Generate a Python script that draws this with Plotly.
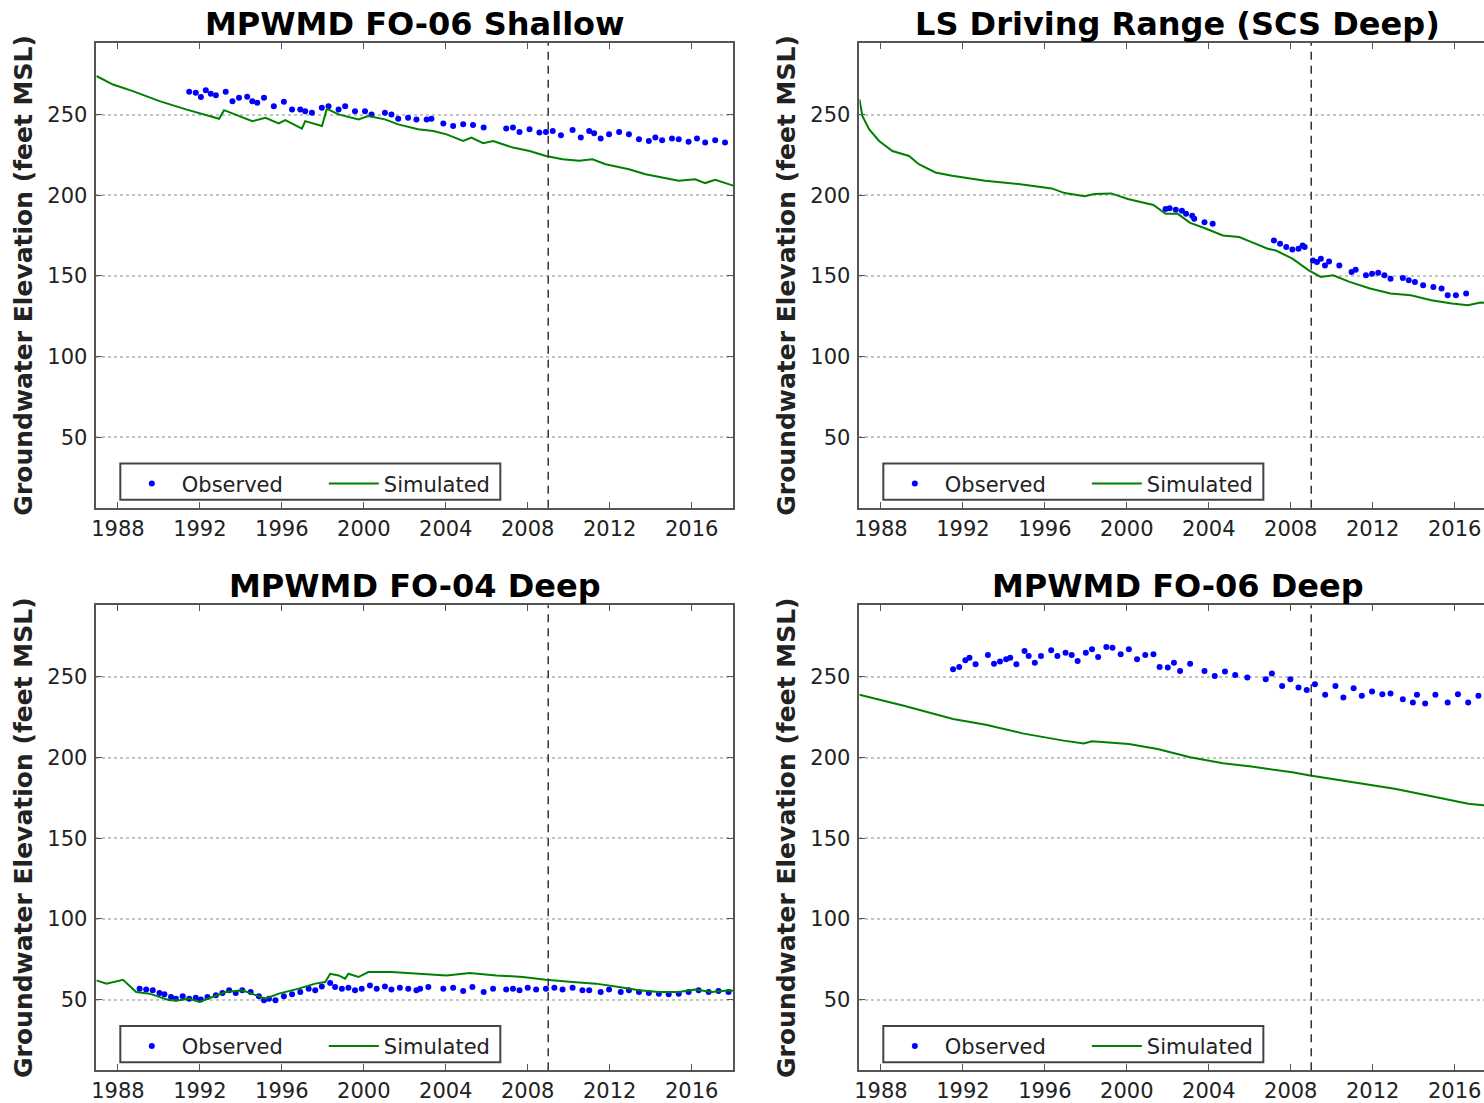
import plotly.graph_objects as go

# ---------------- data (decimal years, feet MSL) ----------------
tl_sim_year = [1986.95, 1987.76, 1988.73, 1990.03, 1991.32, 1992.94, 1993.18, 1994.56, 1995.2, 1995.85,
               1996.17, 1996.98, 1997.14, 1997.96, 1998.2, 1998.77, 1999.74, 2000.22, 2001.03, 2001.68,
               2002.65, 2003.39, 2004.04, 2004.85, 2005.25, 2005.82, 2006.31, 2007.28, 2008.09, 2008.89,
               2009.7, 2010.51, 2011.16, 2011.8, 2012.94, 2013.75, 2014.56, 2015.37, 2016.17, 2016.66,
               2017.15, 2017.87, 2018.03]
tl_sim_val = [274, 268.7, 264.6, 258.4, 253.3, 247.5, 252.8, 246, 248.1, 244.6,
              246.7, 241.4, 246, 243, 253.7, 250.2, 247.1, 249.2, 247.1, 244,
              241, 239.9, 237.8, 233.7, 235.8, 232.3, 233.7, 229.6, 227.5, 224.4,
              222.4, 221.4, 222.4, 219.3, 216.2, 213.1, 211.1, 209, 210, 207.6,
              209.6, 206.4, 206]
tl_obs_year = [1991.48, 1991.8, 1992.05, 1992.29, 1992.53, 1992.78, 1993.26, 1993.59, 1993.91, 1994.31,
               1994.56, 1994.8, 1995.13, 1995.61, 1996.1, 1996.5, 1996.9, 1997.14, 1997.47, 1997.95,
               1998.28, 1998.77, 1999.09, 1999.57, 2000.06, 2000.38, 2001.03, 2001.35, 2001.68, 2002.16,
               2002.57, 2003.07, 2003.3, 2003.88, 2004.36, 2004.85, 2005.33, 2005.85, 2006.95, 2007.28,
               2007.6, 2008.09, 2008.57, 2008.89, 2009.22, 2009.62, 2010.19, 2010.59, 2011.0, 2011.24,
               2011.56, 2011.97, 2012.46, 2012.94, 2013.43, 2013.91, 2014.23, 2014.56, 2015.04, 2015.37,
               2015.85, 2016.26, 2016.66, 2017.15, 2017.63]
tl_obs_val = [264.2, 263.6, 260.9, 265.2, 263, 262.1, 264.2, 258.4, 260.5, 261.1,
              258.4, 257.4, 260.5, 255.3, 258, 253.3, 253.3, 252.2, 251.2, 254.3,
              255.3, 253.3, 255.3, 252.2, 252.2, 250.2, 251.2, 250.2, 247.5, 248.1,
              247.1, 247.1, 247.5, 244.6, 243, 244, 243.6, 242, 241.5, 242,
              239.3, 240.9, 238.9, 239.3, 239.9, 237.2, 240.5, 235.8, 239.9, 238.5,
              235.2, 237.8, 239.3, 237.8, 234.8, 233.7, 235.8, 234.1, 235.2, 234.8,
              233.3, 235.2, 232.7, 234.1, 232.7]

tr_sim_year = [1986.95, 1987.1, 1987.43, 1987.91, 1988.56, 1989.37, 1989.85, 1990.66, 1991.47, 1993.09,
               1994.71, 1996.33, 1996.97, 1997.94, 1998.43, 1999.24, 2000.05, 2000.69, 2001.3, 2001.89,
               2002.49, 2003.09, 2003.69, 2004.69, 2005.48, 2006.09, 2006.88, 2007.28, 2008.08, 2008.88,
               2009.47, 2010.07, 2010.87, 2011.87, 2012.87, 2013.86, 2014.86, 2015.86, 2016.65, 2017.26,
               2017.9]
tr_sim_val = [259.4, 249.1, 240.9, 233.7, 227.5, 224.4, 219.3, 214.2, 212.1, 209,
              207, 204.3, 201.4, 199.4, 200.8, 201.2, 197.7, 195.7, 194, 188.5,
              188.5, 182.9, 180.2, 175.1, 174.1, 171, 166.9, 165.8, 160.7, 153.5,
              149.4, 150.4, 146.3, 142.2, 139.1, 138, 135, 132.9, 131.9, 133.5,
              133]
tr_obs_year = [2001.89, 2002.09, 2002.39, 2002.69, 2002.89, 2003.19, 2003.29, 2003.79, 2004.19,
               2007.18, 2007.48, 2007.78, 2008.08, 2008.38, 2008.58, 2008.68,
               2009.08, 2009.28, 2009.47, 2009.67, 2009.87, 2010.37, 2010.97, 2011.17, 2011.67, 2011.97,
               2012.27, 2012.57, 2012.87, 2013.47, 2013.76, 2014.06, 2014.46, 2014.96, 2015.36, 2015.66,
               2016.06, 2016.56]
tr_obs_val = [191.5, 192, 191.1, 190.5, 188.5, 187.4, 185.4, 183.3, 182.3,
              172, 170, 167.9, 166.4, 166.9, 168.9, 167.9,
              159.6, 158.6, 160.7, 156.5, 159, 156.5, 152.5, 153.9, 150.4, 151.4,
              152, 150.4, 148.3, 148.8, 147.3, 146.3, 144.2, 143.2, 142.2, 138,
              138, 139.1]

bl_sim_year = [1986.95, 1987.44, 1988.25, 1988.57, 1988.89, 1989.54, 1990.51, 1991.0, 1991.48, 1991.97,
               1992.62, 1993.26, 1994.07, 1994.56, 1995.2, 1995.85, 1996.82, 1997.63, 1998.12, 1998.36,
               1998.77, 1999.09, 1999.25, 1999.74, 2000.22, 2001.35, 2002.65, 2004.04, 2005.17, 2006.47,
               2007.76, 2008.89, 2010.19, 2011.32, 2012.45, 2013.43, 2014.4, 2015.37, 2016.17, 2016.98,
               2017.87, 2018.03]
bl_sim_val = [61.9, 59.9, 62.3, 58.8, 54.7, 53.7, 49.6, 49.6, 50.6, 48.6,
              51.6, 54.7, 55.8, 53.7, 50.6, 53.7, 56.8, 59.9, 60.9, 66,
              65, 63, 66, 64, 67.1, 67.1, 66, 65, 66.5, 65,
              64, 62.3, 60.9, 59.9, 57.8, 55.8, 54.7, 54.7, 56.2, 54.7,
              55.8, 55.5]
bl_obs_year = [1989.06, 1989.38, 1989.7, 1990.03, 1990.27, 1990.59, 1990.83, 1991.16, 1991.48, 1991.8,
               1992.05, 1992.37, 1992.78, 1993.1, 1993.43, 1993.75, 1994.07, 1994.48, 1994.88, 1995.13,
               1995.37, 1995.69, 1996.1, 1996.5, 1996.9, 1997.31, 1997.63, 1997.95, 1998.36, 1998.6,
               1998.93, 1999.25, 1999.57, 1999.9, 2000.3, 2000.63, 2001.03, 2001.35, 2001.76, 2002.17,
               2002.57, 2002.75, 2003.15, 2003.88, 2004.36, 2004.85, 2005.3, 2005.85, 2006.31, 2006.95,
               2007.28, 2007.6, 2008.0, 2008.41, 2008.89, 2009.3, 2009.7, 2010.19, 2010.67, 2011.0,
               2011.56, 2011.97, 2012.54, 2012.94, 2013.43, 2013.91, 2014.4, 2014.88, 2015.37, 2015.85,
               2016.34, 2016.83, 2017.31, 2017.8]
bl_obs_val = [56.8, 56.2, 55.8, 54.1, 53.3, 51.6, 50.6, 52.1, 50.6, 51.2,
              50, 51.6, 52.7, 54.1, 55.8, 54.1, 55.8, 54.7, 52.1, 49.6,
              50.6, 49.6, 52.1, 53.3, 54.7, 56.8, 55.8, 58.2, 60.3, 57.8,
              56.8, 57.4, 55.8, 56.8, 58.8, 56.8, 58.2, 56.2, 57.4, 56.8,
              55.8, 56.8, 57.8, 56.8, 57.4, 55.3, 57.8, 54.7, 56.8, 56.2,
              56.8, 55.8, 57.4, 56.2, 56.8, 57.4, 56.2, 57.4, 55.8, 55.8,
              54.7, 56.2, 54.7, 55.8, 54.7, 54.1, 53.7, 53.3, 53.7, 54.7,
              55.8, 54.7, 55.3, 54.7]

br_sim_year = [1986.95, 1989.12, 1991.52, 1993.12, 1994.91, 1996.91, 1997.9, 1998.3, 2000.1, 2001.5,
               2003.09, 2004.69, 2006.08, 2008.08, 2008.94, 2011.07, 2013.07, 2015.06, 2016.66, 2017.41,
               2017.9]
br_sim_val = [238.9, 232.1, 223.9, 220.4, 215, 210.5, 208.8, 210.1, 208.4, 205.3,
              200.2, 196.5, 194.4, 190.9, 188.9, 184.8, 180.7, 175.5, 171.4, 170.4,
              169.5]
br_obs_year = [1991.52, 1991.82, 1992.12, 1992.32, 1992.62, 1993.22, 1993.52, 1993.81, 1994.11, 1994.31,
               1994.61, 1995.01, 1995.21, 1995.51, 1995.81, 1996.31, 1996.61, 1997.01, 1997.31, 1997.6,
               1998.0, 1998.3, 1998.6, 1999.0, 1999.3, 1999.7, 2000.1, 2000.5, 2000.9, 2001.3,
               2001.6, 2002.0, 2002.3, 2002.6, 2003.09, 2003.79, 2004.29, 2004.79, 2005.29, 2005.88,
               2006.78, 2007.08, 2007.58, 2007.98, 2008.38, 2008.78, 2009.18, 2009.68, 2010.18, 2010.57,
               2011.07, 2011.47, 2011.97, 2012.47, 2012.87, 2013.47, 2013.96, 2014.16, 2014.56, 2015.06,
               2015.66, 2016.16, 2016.66, 2017.16]
br_obs_val = [254.7, 256.2, 260.3, 261.9, 257.8, 263.6, 258.2, 259.5, 260.9, 261.9,
              257.8, 266, 263, 258.8, 263, 266.5, 263, 265, 263.6, 259.9,
              265, 267.1, 262.3, 268.5, 268.1, 264, 267.1, 260.9, 263.6, 264,
              256.2, 255.8, 258.8, 253.7, 258.2, 253.7, 250.6, 253.3, 251.2, 249.6,
              248.6, 252.1, 244.4, 248.6, 243.4, 241.8, 245.5, 238.9, 244.4, 237.2,
              243, 238.3, 240.9, 239.3, 239.7, 236.2, 234.2, 238.9, 233.5, 238.9,
              234.2, 239.3, 234.2, 238.3]

titles = ["MPWMD FO-06 Shallow", "LS Driving Range (SCS Deep)", "MPWMD FO-04 Deep", "MPWMD FO-06 Deep"]
y_title = "Groundwater Elevation (feet MSL)"
x_tick_years = [1988, 1992, 1996, 2000, 2004, 2008, 2012, 2016]
y_ticks = [50, 100, 150, 200, 250]
calib_year = 2009.0  # dashed vertical line
x_start, x_end = 1986.95, 2018.03
y_range = [6.3, 294.4]

# ---------------- layout geometry (pixels) ----------------
W, H = 1484, 1103
col_px = [(91.7, 730.7), (857.3, 1484.0)]
row_px = [(43.3, 510.0), (608.0, 1075.0)]
full_w = col_px[0][1] - col_px[0][0]

panels = [
    (tl_obs_year, tl_obs_val, tl_sim_year, tl_sim_val, 0, 0),
    (tr_obs_year, tr_obs_val, tr_sim_year, tr_sim_val, 0, 1),
    (bl_obs_year, bl_obs_val, bl_sim_year, bl_sim_val, 1, 0),
    (br_obs_year, br_obs_val, br_sim_year, br_sim_val, 1, 1),
]

BLUE = "#0000ff"
GREEN = "#008000"
TXT = "#222222"
SPINE = "#555555"
FONT = "DejaVu Sans"

fig = go.Figure()
layout = dict(
    width=W, height=H, margin=dict(l=0, r=0, t=0, b=0),
    paper_bgcolor="white", plot_bgcolor="white",
    font=dict(family=FONT, color=TXT), showlegend=True,
)
annotations = []
shapes = []

for i, (oy, ov, sy, sv, r, c) in enumerate(panels):
    n = i + 1
    xa = "x" if n == 1 else f"x{n}"
    ya = "y" if n == 1 else f"y{n}"
    lg = "legend" if n == 1 else f"legend{n}"
    x0p, x1p = col_px[c]
    y0p, y1p = row_px[r]
    xend = x_start + (x_end - x_start) * (x1p - x0p) / full_w

    fig.add_trace(go.Scatter(x=oy, y=ov, mode="markers", name="Observed",
                             marker=dict(color=BLUE, size=6, line=dict(width=0)),
                             xaxis=xa, yaxis=ya, legend=lg))
    fig.add_trace(go.Scatter(x=sy, y=sv, mode="lines", name="Simulated",
                             line=dict(color=GREEN, width=2),
                             xaxis=xa, yaxis=ya, legend=lg))

    axkey = "xaxis" if n == 1 else f"xaxis{n}"
    aykey = "yaxis" if n == 1 else f"yaxis{n}"
    layout[axkey] = dict(
        domain=[x0p / W, x1p / W], anchor=ya, range=[x_start, xend],
        tickvals=x_tick_years, ticktext=[str(t) for t in x_tick_years],
        ticks="inside", ticklen=6, tickcolor=SPINE, tickwidth=1,
        showline=True, linecolor=SPINE, linewidth=1.5, mirror="ticks",
        showgrid=False, zeroline=False,
        tickfont=dict(size=21, color=TXT, family=FONT), ticklabelstandoff=1,
    )
    layout[aykey] = dict(
        domain=[1 - y1p / H, 1 - y0p / H], anchor=xa, range=y_range,
        tickvals=y_ticks, ticks="inside", ticklen=6, tickcolor=SPINE, tickwidth=1,
        showline=True, linecolor=SPINE, linewidth=1.5,
        mirror="ticks" if c == 0 else False,
        showgrid=True, gridcolor="#c4c4c4", griddash="dot", gridwidth=1.5,
        zeroline=False,
        tickfont=dict(size=21, color=TXT, family=FONT), ticklabelstandoff=3,
        title=dict(text=y_title, font=dict(size=25, color=TXT, family=FONT, weight="bold"),
                   standoff=8),
    )
    # legend entries (frame drawn as a shape below)
    layout[lg] = dict(
        orientation="h", x=(x0p + 25.5) / W, y=1 - (y1p - 44.5) / H,
        xanchor="left", yanchor="top",
        borderwidth=0, bgcolor="rgba(0,0,0,0)",
        font=dict(size=21, color=TXT, family=FONT),
        itemwidth=50, entrywidth=137, entrywidthmode="pixels",
    )
    shapes.append(dict(
        type="rect", xref="paper", yref="paper", layer="above",
        x0=(x0p + 24) / W, x1=(x0p + 405.3) / W,
        y0=1 - (y1p - 8) / H, y1=1 - (y1p - 44.3) / H,
        line=dict(color="#444444", width=2), fillcolor="white",
    ))
    annotations.append(dict(
        text=titles[i], xref="paper", yref="paper",
        x=(x0p + x0p + full_w) / 2 / W, y=1 - (y0p - 19) / H,
        xanchor="center", yanchor="middle", showarrow=False,
        font=dict(size=32, color="#000000", family=FONT, weight="bold"),
    ))
    shapes.append(dict(
        type="line", xref=xa, yref=f"{ya} domain", x0=calib_year, x1=calib_year, y0=0, y1=1,
        line=dict(color="#333333", width=1.5, dash="8px,6px"),
    ))

layout["annotations"] = annotations
layout["shapes"] = shapes
fig.update_layout(**layout)
fig.write_html("out.html")
